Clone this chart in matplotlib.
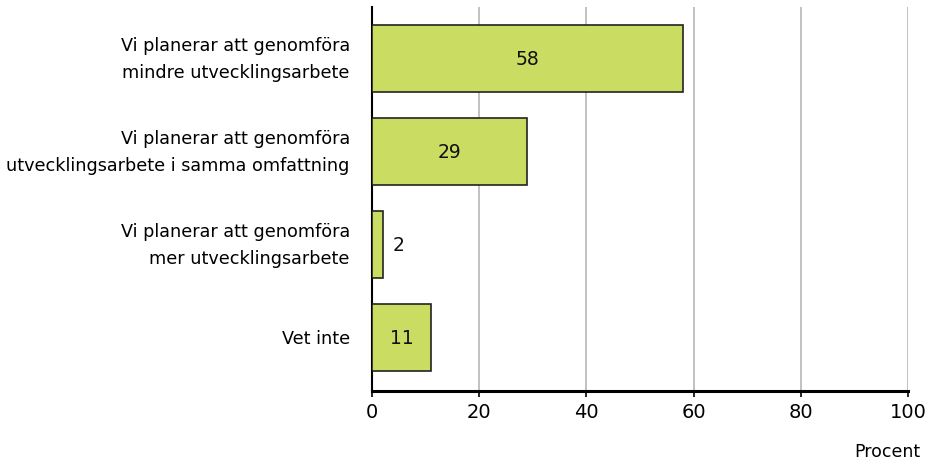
import matplotlib
matplotlib.use('Agg')
import matplotlib.pyplot as plt

labels = ['Vi planerar att genomföra\nmindre utvecklingsarbete',
          'Vi planerar att genomföra\nutvecklingsarbete i samma omfattning',
          'Vi planerar att genomföra\nmer utvecklingsarbete',
          'Vet inte']
values = [58, 29, 2, 11]
xticks = [0, 20, 40, 60, 80, 100]

plt.rcParams['font.family'] = ['DejaVu Sans']

fig = plt.figure(figsize=(9.31, 4.64), dpi=100)
ax = fig.add_axes([0.3996, 0.1552, 0.5757, 0.8276])

pos = list(range(len(values)))
ax.barh(pos, values, height=0.72, color='#cbdc62', edgecolor='#222222', linewidth=1.2, zorder=3)

for i, v in enumerate(values):
    if v >= 5:
        ax.text(v / 2, i, str(v), ha='center', va='center', fontsize=13.5, color='#111111', zorder=4)
    else:
        ax.text(v + 1.8, i, str(v), ha='left', va='center', fontsize=13.5, color='#111111', zorder=4)

ax.set_xlim(0, 100)
ax.set_ylim(3.57, -0.555)
ax.set_xticks(xticks)
ax.set_yticks(pos)
ax.set_yticklabels(labels, fontsize=12.7, linespacing=1.65)
for lab in ax.get_yticklabels():
    lab.set_verticalalignment('center')
ax.tick_params(axis='y', length=0, pad=16)
ax.tick_params(axis='x', length=4, width=1.2, labelsize=14, pad=4, direction='out')

ax.xaxis.grid(True, color='#b0b0b0', linewidth=1.1, zorder=0)
ax.set_axisbelow(True)
for s in ['top', 'right']:
    ax.spines[s].set_visible(False)
ax.spines['left'].set_linewidth(1.5)
ax.spines['bottom'].set_linewidth(2.2)

fig.text(920 / 931, 1 - 452 / 464, 'Procent', ha='right', va='center', fontsize=12.5)

fig.savefig('out.png', dpi=100)
